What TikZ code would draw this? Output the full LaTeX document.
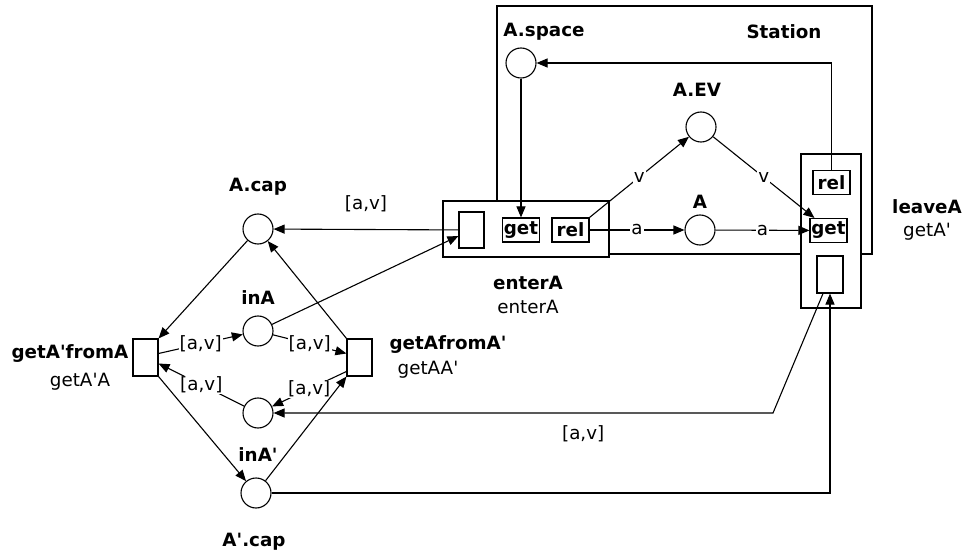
\documentclass[tikz,border=0pt]{standalone}
\usepackage{fontspec}
\setmainfont{DejaVu Sans}
\usetikzlibrary{arrows.meta}
\newcommand{\apos}{\textquotesingle}

\begin{document}
\begin{tikzpicture}[x=1pt,y=-1pt,line width=1.1pt,
  font=\fontsize{18.3}{21}\selectfont,
  >={Triangle[length=11pt,width=9pt]},
  place/.style={draw, circle, minimum size=30pt, inner sep=0pt},
  trans/.style={draw, fill=white, inner sep=0pt},
  sub/.style={draw, fill=white, inner sep=0pt, minimum width=37pt, minimum height=24pt, font=\fontsize{18.3}{21}\selectfont\bfseries},
  lbl/.style={font=\fontsize{18.3}{21}\selectfont\bfseries},
  arc/.style={fill=white, inner sep=1pt}]
  \useasboundingbox (0,0) rectangle (964,556);
  % station frame
  \draw (497,6) rectangle (872,254);
  \node[lbl] (stat) at (784,32) {Station};
  % transitions with subnets
  \node[trans, minimum width=166pt, minimum height=56pt] (enterA) at (526,229) {};
  \node[trans, minimum width=25pt, minimum height=36pt] (blank1) at (471.5,230) {};
  \node[sub] (get1) at (521,230) {get};
  \node[sub] (rel1) at (570.5,230) {rel};
  \node[trans, minimum width=60pt, minimum height=154pt] (leaveA) at (831,231) {};
  \node[sub] (rel2) at (831.5,182.5) {rel};
  \node[sub] (get2) at (828.5,230.5) {get};
  \node[trans, minimum width=26pt, minimum height=37pt] (blank2) at (830,274.5) {};
  \node[lbl] at (528,283) {enterA};
  \node at (528,307) {enterA};
  \node[lbl] at (927,207) {leaveA};
  \node at (927,232) {getA\apos};
  % places
  \node[place] (Aspace) at (521,63) {};
  \node[lbl] at (544,32) {A.space};
  \node[place] (AEV) at (701,127) {};
  \node[lbl] at (697,90) {A.EV};
  \node[place] (A) at (700,230) {};
  \node[lbl] at (700,202) {A};
  \node[place] (Acap) at (258,229) {};
  \node[lbl] at (258,187) {A.cap};
  \node[place] (inA) at (258,331) {};
  \node[lbl] at (258,298) {inA};
  \node[place] (inAp) at (258,413) {};
  \node[lbl] at (258,455) {inA\apos};
  \node[place] (Apcap) at (256,493) {};
  \node[lbl] at (254,542) {A\apos.cap};
  \node[trans, minimum width=25pt, minimum height=37pt] (gApfA) at (145.5,357.5) {};
  \node[lbl] at (70,354) {getA\apos fromA};
  \node at (80,382) {getA\apos A};
  \node[trans, minimum width=25pt, minimum height=37pt] (gAfAp) at (359.5,357.5) {};
  \node[lbl] at (448,345) {getAfromA\apos};
  \node at (428,370) {getAA\apos};
  % arcs inside the station
  \draw[->] (Aspace) -- (get1);
  \draw[->] (rel2.north) |- (Aspace);
  \draw[->] (rel1.north east) -- (AEV) node[arc, midway] {v};
  \draw[->] (AEV) -- ([xshift=5pt]get2.north west) node[arc, midway] {v};
  \draw[->] (rel1) -- (A) node[arc, midway] {a};
  \draw[->] (A) -- (get2) node[arc, midway] {a};
  % arcs of the switch
  \draw[->] (blank1) -- (Acap) node[midway, above=14pt] {[a,v]};
  \draw[->] (inA) -- ([yshift=-6pt]blank1.west);
  \draw[->] (Acap) -- (gApfA.north east);
  \draw[->] (gAfAp.north west) -- (Acap);
  \draw[->] ([yshift=4pt]gApfA.east) -- (inA) node[arc, midway] {[a,v]};
  \draw[->] (inA) -- ([yshift=4pt]gAfAp.west) node[arc, midway] {[a,v]};
  \draw[->] ([yshift=-14pt]gAfAp.west) -- (inAp) node[arc, midway] {[a,v]};
  \draw[->] (inAp) -- ([yshift=-6pt]gApfA.east) node[arc, midway] {[a,v]};
  \draw[->] (gApfA.south east) -- (Apcap);
  \draw[->] (Apcap) -- (gAfAp.south west);
  \coordinate (bend) at (773,413);
  \draw[->] ([xshift=-7pt]blank2.south) -- (bend) -- (inAp) node[pos=0.38, below=9pt] {[a,v]};
  \draw[->] (Apcap) -| (blank2.south);
\end{tikzpicture}
\end{document}
